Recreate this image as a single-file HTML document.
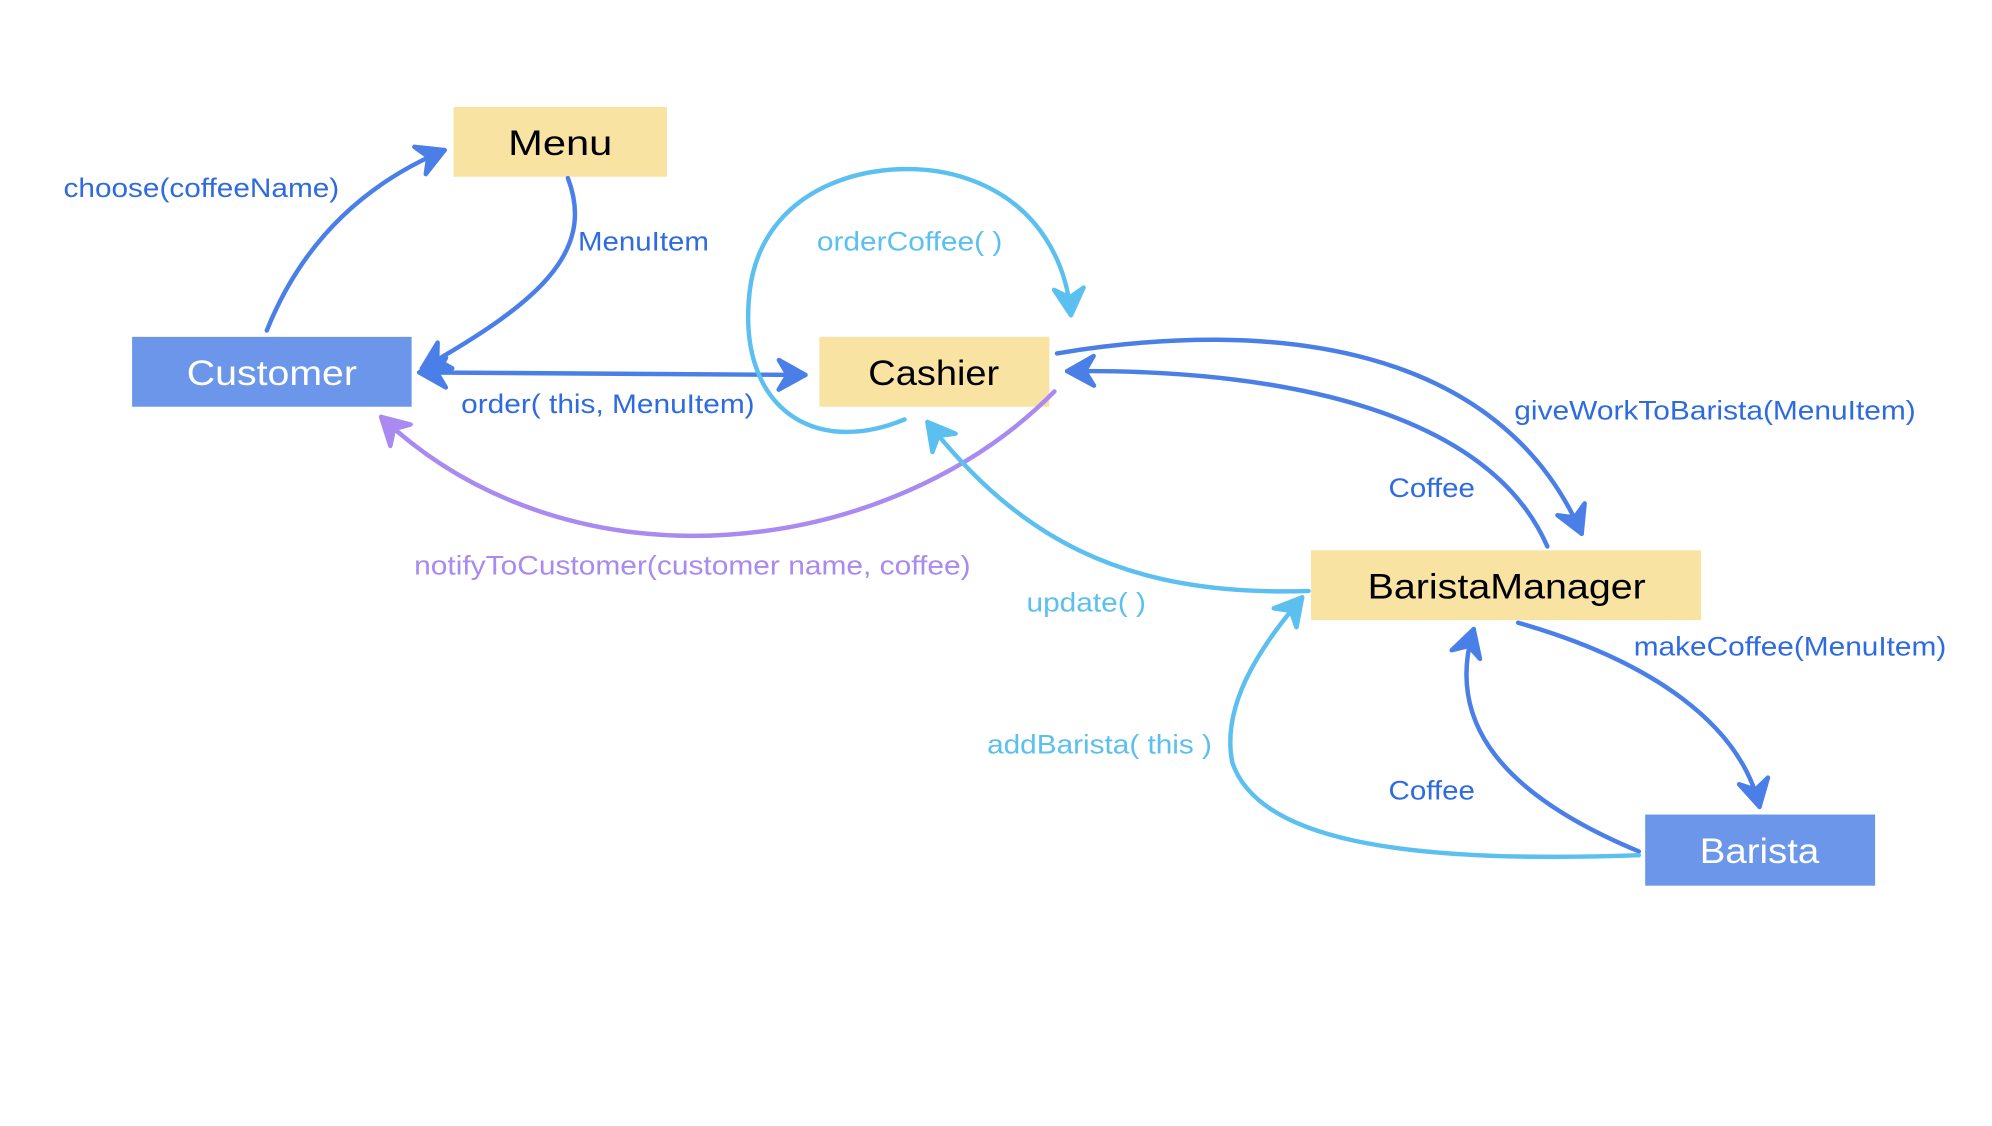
<!DOCTYPE html>
<html><head><meta charset="utf-8"><style>
html,body{margin:0;padding:0;background:#fff;}
svg{display:block;}
text{font-family:"Liberation Sans",sans-serif;}
</style></head><body>
<svg width="1992" height="1126" viewBox="0 0 1568 886" xmlns="http://www.w3.org/2000/svg">
<defs>
<marker id="mb" viewBox="0 0 12 12" refX="10" refY="6" markerWidth="8" markerHeight="8" orient="auto-start-reverse" markerUnits="strokeWidth">
<path d="M1,1 L10,6 L1,11 L4,6 Z" fill="#4a7fe8" stroke="#4a7fe8" stroke-width="1.5" stroke-linejoin="round"/></marker>
<marker id="ml" viewBox="0 0 12 12" refX="10" refY="6" markerWidth="8" markerHeight="8" orient="auto" markerUnits="strokeWidth">
<path d="M1,1 L10,6 L1,11 L4,6 Z" fill="#5bc0f0" stroke="#5bc0f0" stroke-width="1.5" stroke-linejoin="round"/></marker>
<marker id="mp" viewBox="0 0 12 12" refX="10" refY="6" markerWidth="8" markerHeight="8" orient="auto" markerUnits="strokeWidth">
<path d="M1,1 L10,6 L1,11 L4,6 Z" fill="#a98af0" stroke="#a98af0" stroke-width="1.5" stroke-linejoin="round"/></marker>
</defs>
<rect x="357" y="84" width="168" height="55" fill="#f9e3a3"/>
<rect x="104" y="265" width="220" height="55" fill="#6b96ea"/>
<rect x="645" y="265" width="181" height="55" fill="#f9e3a3"/>
<rect x="1032" y="433" width="307" height="55" fill="#f9e3a3"/>
<rect x="1295" y="641" width="181" height="56" fill="#6b96ea"/>
<g font-size="28" text-anchor="middle" lengthAdjust="spacingAndGlyphs">
<text x="441" y="122" fill="#000" textLength="82" lengthAdjust="spacingAndGlyphs">Menu</text>
<text x="214" y="303" fill="#fff" textLength="134" lengthAdjust="spacingAndGlyphs">Customer</text>
<text x="735" y="303" fill="#000" textLength="103" lengthAdjust="spacingAndGlyphs">Cashier</text>
<text x="1186" y="471" fill="#000" textLength="219" lengthAdjust="spacingAndGlyphs">BaristaManager</text>
<text x="1385" y="679" fill="#fff" textLength="94" lengthAdjust="spacingAndGlyphs">Barista</text>
</g>
<g fill="none" stroke-width="3.5" stroke-linecap="round">
<path d="M210,260 Q250,160 350,118" stroke="#4a7fe8" marker-end="url(#mb)"/>
<path d="M447,140 C470,200 420,240 332,290" stroke="#4a7fe8" marker-end="url(#mb)"/>
<path d="M330,293 L634,295" stroke="#4a7fe8" marker-end="url(#mb)" marker-start="url(#mb)"/>
<path d="M712,330 C640,360 580,320 590,230 C600,140 700,120 760,140 C820,160 840,210 843,248" stroke="#5bc0f0" marker-end="url(#ml)"/>
<path d="M832,278 C1000,250 1180,270 1245,420" stroke="#4a7fe8" marker-end="url(#mb)"/>
<path d="M1218,430 C1170,320 1000,290 840,292" stroke="#4a7fe8" marker-end="url(#mb)"/>
<path d="M830,308 C700,440 450,470 300,328" stroke="#a98af0" marker-end="url(#mp)"/>
<path d="M1030,465 C880,470 800,420 730,332" stroke="#5bc0f0" marker-end="url(#ml)"/>
<path d="M1195,490 C1300,520 1370,570 1385,635" stroke="#4a7fe8" marker-end="url(#mb)"/>
<path d="M1290,670 C1170,620 1140,560 1160,495" stroke="#4a7fe8" marker-end="url(#mb)"/>
<path d="M1290,673 C1100,680 990,660 970,600 C960,550 1000,500 1025,470" stroke="#5bc0f0" marker-end="url(#ml)"/>
</g>
<g font-size="21">
<text x="50" y="155" fill="#2f6be0" textLength="217" lengthAdjust="spacingAndGlyphs">choose(coffeeName)</text>
<text x="455" y="197" fill="#2f6be0" textLength="103" lengthAdjust="spacingAndGlyphs">MenuItem</text>
<text x="363" y="325" fill="#2f6be0" textLength="231" lengthAdjust="spacingAndGlyphs">order( this, MenuItem)</text>
<text x="643" y="197" fill="#5bc0f0" textLength="146" lengthAdjust="spacingAndGlyphs">orderCoffee( )</text>
<text x="1192" y="330" fill="#2f6be0" textLength="316" lengthAdjust="spacingAndGlyphs">giveWorkToBarista(MenuItem)</text>
<text x="1093" y="391" fill="#2f6be0" textLength="68" lengthAdjust="spacingAndGlyphs">Coffee</text>
<text x="326" y="452" fill="#a98af0" textLength="438" lengthAdjust="spacingAndGlyphs">notifyToCustomer(customer name, coffee)</text>
<text x="808" y="481" fill="#5bc0f0" textLength="94" lengthAdjust="spacingAndGlyphs">update( )</text>
<text x="1286" y="516" fill="#2f6be0" textLength="246" lengthAdjust="spacingAndGlyphs">makeCoffee(MenuItem)</text>
<text x="777" y="593" fill="#5bc0f0" textLength="177" lengthAdjust="spacingAndGlyphs">addBarista( this )</text>
<text x="1093" y="629" fill="#2f6be0" textLength="68" lengthAdjust="spacingAndGlyphs">Coffee</text>
</g>
</svg>
</body></html>
